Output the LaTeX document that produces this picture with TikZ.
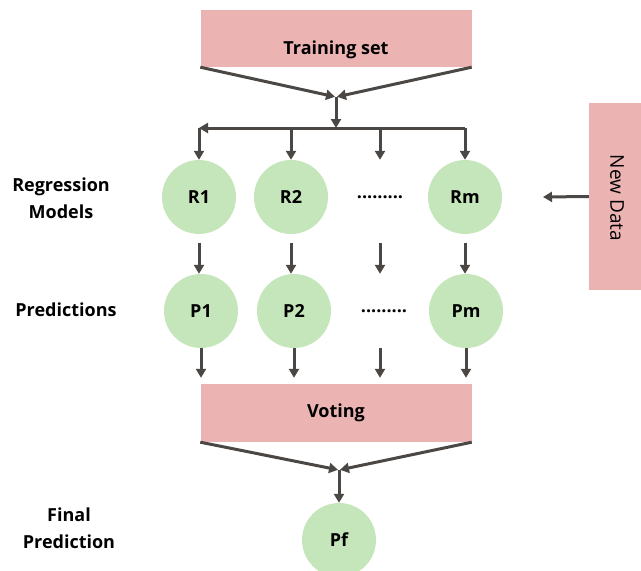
\documentclass[tikz,border=0pt]{standalone}
\usepackage{fontspec}
\setmainfont{Open Sans}
\usetikzlibrary{arrows.meta}
\definecolor{setpink}{RGB}{236,179,179}
\definecolor{modelgreen}{RGB}{197,230,186}
\definecolor{arrowgrey}{RGB}{74,71,69}
\tikzset{
  pinkbox/.style={fill=setpink, minimum width=271pt, minimum height=57pt, inner sep=0pt},
  model/.style={circle, fill=modelgreen, minimum size=74pt, inner sep=0pt, font=\fontsize{18}{22}\selectfont\bfseries},
  boxtext/.style={font=\fontsize{18}{22}\selectfont\bfseries},
  sidetext/.style={align=center, font=\fontsize{18}{27}\selectfont\bfseries},
  flow/.style={draw=arrowgrey, line width=3pt, -{Triangle[length=9pt,width=10pt]}},
  bar/.style={draw=arrowgrey, line width=3pt},
}
\begin{document}
\begin{tikzpicture}[x=1pt,y=-1pt]
\useasboundingbox (0,0) rectangle (641,571);
\node[pinkbox] (train) at (336,38.5) {};
\node[boxtext] (traintext) at (336,50) {Training set};
\coordinate (merge) at (336,97);
\coordinate (split) at (336,128);
\node[model] (r1) at (199,197) {R1};
\node[model] (r2) at (291,197) {R2};
\node[boxtext] (dotsr) at (380,197) {.........};
\node[model] (rm) at (465,197) {Rm};
\node[model] (p1) at (201,311) {P1};
\node[model] (p2) at (294,311) {P2};
\node[boxtext] (dotsp) at (384,311) {.........};
\node[model] (pm) at (466,311) {Pm};
\node[pinkbox, minimum height=58pt] (voting) at (336,413) {};
\node[boxtext] (votingtext) at (336,413) {Voting};
\coordinate (vmerge) at (339,470);
\node[model] (pf) at (339,540) {Pf};
\node[fill=setpink, minimum width=56pt, minimum height=187pt, inner sep=0pt] (newdata) at (617,196.5) {};
\node[rotate=-90, font=\fontsize{19}{22}\selectfont] (newdatatext) at (617,198) {New Data};
\coordinate (ndend) at (543,197);
\node[sidetext] (regtext) at (61,198.5) {Regression\\Models};
\node[sidetext] (predtext) at (66,310) {Predictions};
\node[sidetext] (finaltext) at (69,528) {Final\\Prediction};
\draw[flow, shorten >=1pt] (train.south west) -- (merge);
\draw[flow, shorten >=1pt] (train.south east) -- (merge);
\draw[flow] (merge) -- (split);
\draw[flow] (split) -- (r1 |- split);
\draw[bar] (split) -- (rm |- split);
\draw[flow] (r1 |- split) -- (r1.north);
\draw[flow] (r2 |- split) -- (r2.north);
\draw[flow] (dotsr |- split) -- (dotsr |- r1.north);
\draw[flow] (rm |- split) -- (rm.north);
\draw[flow, shorten <=9pt] (r1.south) -- (r1.south |- p1.north);
\draw[flow, shorten <=9pt] (r2.south) -- (r2.south |- p2.north);
\draw[flow, shorten <=9pt] (dotsr |- r1.south) -- (dotsr |- p1.north);
\draw[flow, shorten <=9pt] (rm.south) -- (rm.south |- pm.north);
\draw[flow, shorten >=6pt] (p1.south) -- (p1.south |- voting.north);
\draw[flow, shorten >=6pt] (p2.south) -- (p2.south |- voting.north);
\draw[flow, shorten >=6pt] (dotsr |- p1.south) -- (dotsr |- voting.north);
\draw[flow, shorten >=6pt] (pm.south) -- (pm.south |- voting.north);
\draw[flow, shorten >=1pt] (voting.south west) -- (vmerge);
\draw[flow, shorten >=1pt] (voting.south east) -- (vmerge);
\draw[flow] (vmerge) -- (pf.north);
\draw[flow] (newdata.west) -- (ndend);
\end{tikzpicture}
\end{document}
